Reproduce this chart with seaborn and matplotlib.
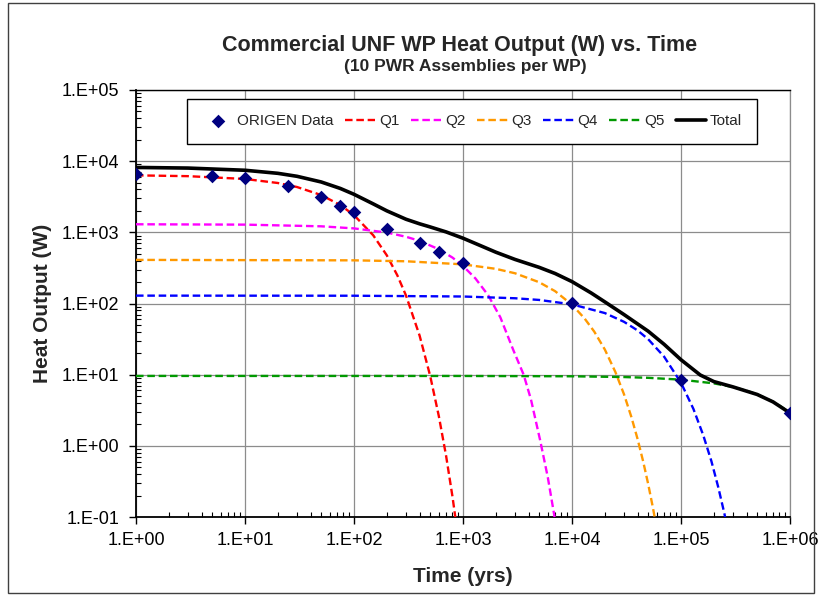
import matplotlib
matplotlib.use("Agg")
import matplotlib.pyplot as plt
import seaborn as sns
from matplotlib.ticker import FixedLocator, LogLocator, NullFormatter
from matplotlib.patches import Rectangle

# ---------------- data ----------------
t_origen = [1, 5, 10, 25, 50, 75, 100, 200, 400, 600, 1000, 10000, 100000, 1000000]
origen = [6700, 6200, 5750, 4500, 3100, 2350, 1900, 1120, 700, 530, 365, 101, 8.4, 2.9]

t_q1 = [1, 3, 10, 20, 30, 50, 75, 100, 150, 200, 250, 300, 400, 500, 600, 700, 800, 900]
q1 = [6317, 6156, 5620, 4935, 4333, 3341, 2414, 1744, 910, 475, 248, 129.5, 35.3, 9.6, 2.62, 0.72, 0.195, 0.053]

t_q2 = [1, 10, 50, 100, 200, 300, 400, 600, 800, 1000, 1300, 1700, 2200, 2900, 3600, 4200, 5100, 6000, 7000]
q2 = [1298, 1283, 1215, 1136, 993, 867, 758, 578, 442, 337, 225, 131, 64, 22, 10.0, 4.5, 1.2, 0.36, 0.09]

t_q3 = [1, 100, 300, 1000, 2000, 3000, 5000, 7000, 10000, 13000, 16000, 20000, 25000, 30000,
        35000, 40000, 45000, 50000, 55000, 60000]
q3 = [410, 404, 392, 355, 307, 266, 199, 149, 96, 62, 40.3, 22.6, 10.9, 5.3,
      2.56, 1.24, 0.60, 0.29, 0.14, 0.068]

t_q4 = [1, 100, 1000, 3000, 5000, 10000, 20000, 30000, 40000, 50000, 70000, 100000, 130000,
        160000, 190000, 220000, 250000, 280000]
q4 = [129, 128.6, 125.4, 118.5, 112.2, 97.3, 73.4, 55.3, 41.8, 31.5, 17.9, 7.7, 3.3,
      1.41, 0.61, 0.26, 0.112, 0.048]

t_q5 = [1, 1000, 10000, 30000, 50000, 100000, 200000, 300000, 400000, 500000, 600000,
        700000, 800000, 900000, 1000000]
q5 = [9.6, 9.59, 9.49, 9.26, 9.03, 8.51, 7.55, 6.70, 5.94, 5.27, 4.67, 4.14, 3.68, 3.26, 2.89]

t_total = [1, 3, 10, 20, 30, 50, 75, 100, 150, 200, 300, 400, 500, 700, 1000, 1500, 2000, 3000,
           5000, 7000, 10000, 15000, 20000, 30000, 50000, 70000, 100000, 150000, 200000, 300000,
           500000, 700000, 1000000]
total = [8164, 7999, 7451, 6749, 6128, 5101, 4133, 3422, 2512, 2005, 1527, 1317, 1190, 1013, 827,
         635, 526, 416, 322, 264, 203, 140.5, 105.4, 69.9, 40.8, 26.7, 16.2, 9.9, 8.0, 6.73,
         5.27, 4.14, 2.89]

x_ticks = [1, 10, 100, 1000, 10000, 100000, 1000000]
x_tick_labels = ["1.E+00", "1.E+01", "1.E+02", "1.E+03", "1.E+04", "1.E+05", "1.E+06"]
y_ticks = [0.1, 1, 10, 100, 1000, 10000, 100000]
y_tick_labels = ["1.E-01", "1.E+00", "1.E+01", "1.E+02", "1.E+03", "1.E+04", "1.E+05"]

title = "Commercial UNF WP Heat Output (W) vs. Time"
subtitle = "(10 PWR Assemblies per WP)"
x_label = "Time (yrs)"
y_label = "Heat Output (W)"

# ---------------- drawing ----------------
sns.set_theme(style="white")
plt.rcParams['font.family'] = ['Liberation Sans', 'DejaVu Sans']

W, H = 820, 596
fig = plt.figure(figsize=(W / 100, H / 100), dpi=100)
fig.patch.set_facecolor("white")
ax = fig.add_axes([136 / W, (H - 517) / H, 654 / W, 427 / H])
ax.set_facecolor("white")

dash = (0, (3.2, 1.6))
series = [
    (t_q1, q1, "Q1", "#FF0000"),
    (t_q2, q2, "Q2", "#FF00FF"),
    (t_q3, q3, "Q3", "#FF9900"),
    (t_q4, q4, "Q4", "#0000FF"),
    (t_q5, q5, "Q5", "#009900"),
]
for t, v, lab, col in series:
    sns.lineplot(x=t, y=v, ax=ax, color=col, linewidth=1.7, linestyle=dash,
                 label=lab, sort=False, estimator=None, zorder=3)
sns.lineplot(x=t_total, y=total, ax=ax, color="black", linewidth=2.6,
             label="Total", sort=False, estimator=None, zorder=4)
sns.scatterplot(x=t_origen, y=origen, ax=ax, marker="D", s=48, color="#000080",
                edgecolor="#000080", linewidth=0, label="ORIGEN Data", zorder=5)

ax.set_xscale("log")
ax.set_yscale("log")
ax.set_xlim(1, 1e6)
ax.set_ylim(0.1, 1e5)

ax.xaxis.set_major_locator(FixedLocator(x_ticks))
ax.set_xticklabels(x_tick_labels)
ax.yaxis.set_major_locator(FixedLocator(y_ticks))
ax.set_yticklabels(y_tick_labels)
ax.xaxis.set_minor_locator(LogLocator(base=10, subs=range(2, 10), numticks=20))
ax.yaxis.set_minor_locator(LogLocator(base=10, subs=range(2, 10), numticks=20))
ax.xaxis.set_minor_formatter(NullFormatter())
ax.yaxis.set_minor_formatter(NullFormatter())

ax.tick_params(which="both", bottom=True, left=True, top=False, right=False, colors="black")
ax.tick_params(which="major", direction="out", length=5, width=1.0, labelsize=13)
ax.tick_params(axis="x", which="major", pad=6)
ax.tick_params(axis="y", which="major", pad=7)
ax.tick_params(which="minor", direction="in", length=3.5, width=0.8)

ax.grid(True, which="major", color="#8c8c8c", linewidth=0.9)
ax.grid(False, which="minor")
ax.set_axisbelow(True)

for side in ["left", "bottom"]:
    ax.spines[side].set_color("black")
    ax.spines[side].set_linewidth(1.3)
ax.spines["top"].set_color("black")
ax.spines["top"].set_linewidth(1.0)
ax.spines["right"].set_color("#8c8c8c")
ax.spines["right"].set_linewidth(0.9)

ax.set_xlabel(x_label, fontsize=15, fontweight="bold", labelpad=13)
ax.set_ylabel(y_label, fontsize=15, fontweight="bold", labelpad=7)

h, l = ax.get_legend_handles_labels()
hd = dict(zip(l, h))
order = ["ORIGEN Data", "Q1", "Q2", "Q3", "Q4", "Q5", "Total"]
leg = ax.legend([hd[k] for k in order], order, ncol=7, loc="upper left",
                bbox_to_anchor=(0.078, 0.979), borderaxespad=0, frameon=True, fancybox=False,
                edgecolor="black", fontsize=11, handlelength=2.0, handletextpad=0.25,
                columnspacing=0.75, borderpad=1.0, framealpha=1)
leg.get_frame().set_linewidth(1.0)

fig.text(460 / W, 1 - 46 / H, title, ha="center", va="center", fontsize=15.5, fontweight="bold")
fig.text(465 / W, 1 - 66 / H, subtitle, ha="center", va="center", fontsize=12.5, fontweight="bold")

fig.patches.append(Rectangle((8 / W, 3 / H), (814 - 8) / W, (593 - 3) / H,
                             transform=fig.transFigure, fill=False,
                             edgecolor="#404040", linewidth=1.0))

fig.savefig("out.png", dpi=100)
